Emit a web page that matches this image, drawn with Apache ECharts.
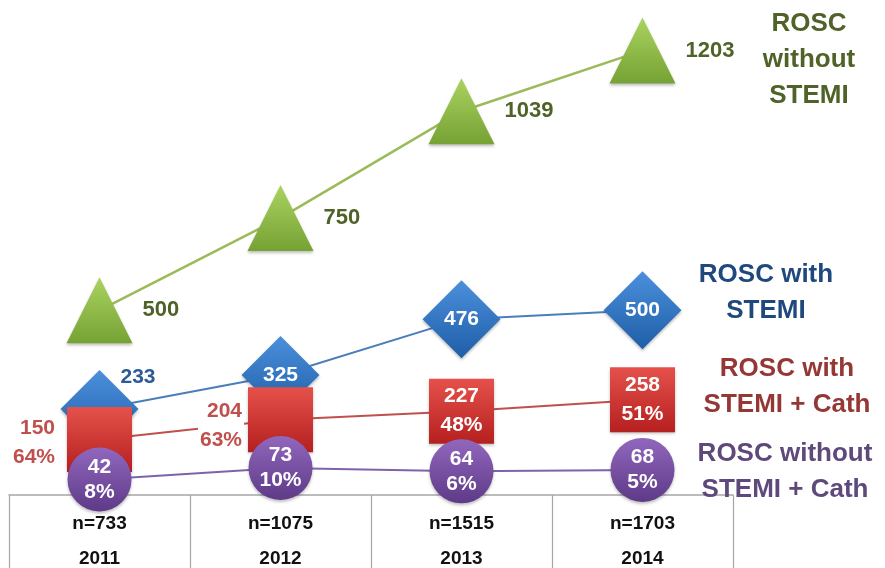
<!DOCTYPE html>
<html><head><meta charset="utf-8">
<script src="https://cdn.jsdelivr.net/npm/echarts@6/dist/echarts.min.js"></script>
<style>html,body{margin:0;padding:0;background:#fff}#c{width:885px;height:568px}</style>
</head><body><div id="c"></div>
<script>
// ---- data ----
const years = ['2011', '2012', '2013', '2014'];
const totals = [733, 1075, 1515, 1703];
const roscWithoutStemi = [500, 750, 1039, 1203];
const roscWithStemi = [233, 325, 476, 500];
const roscStemiCath = [150, 204, 227, 258];
const roscStemiCathPct = [64, 63, 48, 51];
const roscNoStemiCath = [42, 73, 64, 68];
const roscNoStemiCathPct = [8, 10, 6, 5];
const seriesNames = ['ROSC\nwithout\nSTEMI', 'ROSC with\nSTEMI', 'ROSC with\nSTEMI + Cath', 'ROSC without\nSTEMI + Cath'];

// ---- layout / style ----
const FONT = 'Arial, "Liberation Sans", sans-serif';
const grad = (a, b) => new echarts.graphic.LinearGradient(0, 0, 0, 1, [{offset: 0, color: a}, {offset: 1, color: b}]);
const chart = echarts.init(document.getElementById('c'), null, {renderer: 'canvas'});

const blueData = roscWithStemi.map((v, i) => i === 0
  ? {value: v, label: {position: [60, 7], align: 'left', verticalAlign: 'middle', color: '#2e5b96'}}
  : {value: v});
const redData = roscStemiCath.map((v, i) => i < 2
  ? {value: v, label: {position: 'left', distance: i === 0 ? 10 : 4, color: '#c0504d',
      backgroundColor: i === 1 ? '#ffffff' : 'transparent', padding: [0, 2, 0, 2], offset: [0, i === 1 ? 6 : 3]}}
  : {value: v});

const legendText = (x, y, i, color) => ({type: 'text', x: x, y: y, z: 10,
  style: {text: seriesNames[i], fill: color, font: 'bold 26px ' + FONT, textAlign: 'center', textVerticalAlign: 'middle', lineHeight: 36}});

const option = {
  animation: false,
  backgroundColor: '#ffffff',
  grid: {left: 9, right: 152, top: 0, bottom: 73, containLabel: false},
  xAxis: {
    type: 'category', data: years, boundaryGap: true,
    axisLine: {show: true, lineStyle: {color: '#a6a6a6', width: 1.5}},
    axisTick: {show: true, length: 80, interval: 0, lineStyle: {color: '#a6a6a6', width: 1.2}},
    axisLabel: {
      interval: 0, margin: 11,
      formatter: (v, i) => '{n|n=' + totals[i] + '}\n{y|' + v + '}',
      rich: {
        n: {fontFamily: FONT, fontSize: 19, fontWeight: 'bold', color: '#111', lineHeight: 35},
        y: {fontFamily: FONT, fontSize: 19, fontWeight: 'bold', color: '#111', lineHeight: 35}
      }
    },
    splitLine: {show: false}
  },
  yAxis: {type: 'value', min: 0, max: 1340, show: false, splitLine: {show: false}},
  series: [
    {
      name: seriesNames[0], type: 'line', data: roscWithoutStemi,
      symbol: 'triangle', symbolSize: [66, 66], z: 2,
      itemStyle: {color: grad('#aad35f', '#76a235'), shadowColor: 'rgba(0,0,0,0.25)', shadowBlur: 3, shadowOffsetY: 2},
      lineStyle: {color: '#9bbb59', width: 2.5},
      label: {show: true, position: 'right', distance: 10, color: '#4f6228', fontFamily: FONT, fontSize: 22, fontWeight: 'bold'}
    },
    {
      name: seriesNames[1], type: 'line', data: blueData,
      symbol: 'diamond', symbolSize: [78, 78], z: 3,
      itemStyle: {color: grad('#4b8fdc', '#1f5ea8'), shadowColor: 'rgba(0,0,0,0.25)', shadowBlur: 3, shadowOffsetY: 2},
      lineStyle: {color: '#4a7ebb', width: 2},
      label: {show: true, position: 'inside', color: '#ffffff', fontFamily: FONT, fontSize: 21, fontWeight: 'bold'}
    },
    {
      name: seriesNames[2], type: 'line', data: redData,
      symbol: 'rect', symbolSize: [65, 65], z: 4,
      itemStyle: {color: grad('#e5514a', '#b52020'), shadowColor: 'rgba(0,0,0,0.25)', shadowBlur: 3, shadowOffsetY: 2},
      lineStyle: {color: '#c0504d', width: 2},
      label: {show: true, position: 'inside', color: '#ffffff', fontFamily: FONT, fontSize: 21, fontWeight: 'bold', lineHeight: 29,
        formatter: p => p.value + '\n' + roscStemiCathPct[p.dataIndex] + '%'}
    },
    {
      name: seriesNames[3], type: 'line', data: roscNoStemiCath,
      symbol: 'circle', symbolSize: 64, z: 5,
      itemStyle: {color: grad('#9167bd', '#5e3a88'), shadowColor: 'rgba(0,0,0,0.25)', shadowBlur: 3, shadowOffsetY: 2},
      lineStyle: {color: '#7f63a8', width: 2},
      label: {show: true, position: 'inside', color: '#ffffff', fontFamily: FONT, fontSize: 21, fontWeight: 'bold', lineHeight: 25,
        formatter: p => p.value + '\n' + roscNoStemiCathPct[p.dataIndex] + '%'}
    }
  ],
  graphic: [
    legendText(809, 60, 0, '#4f6228'),
    legendText(766, 293, 1, '#1f497d'),
    legendText(787, 387, 2, '#953735'),
    legendText(785, 472, 3, '#5f497a')
  ]
};
chart.setOption(option);
</script>
</body></html>
